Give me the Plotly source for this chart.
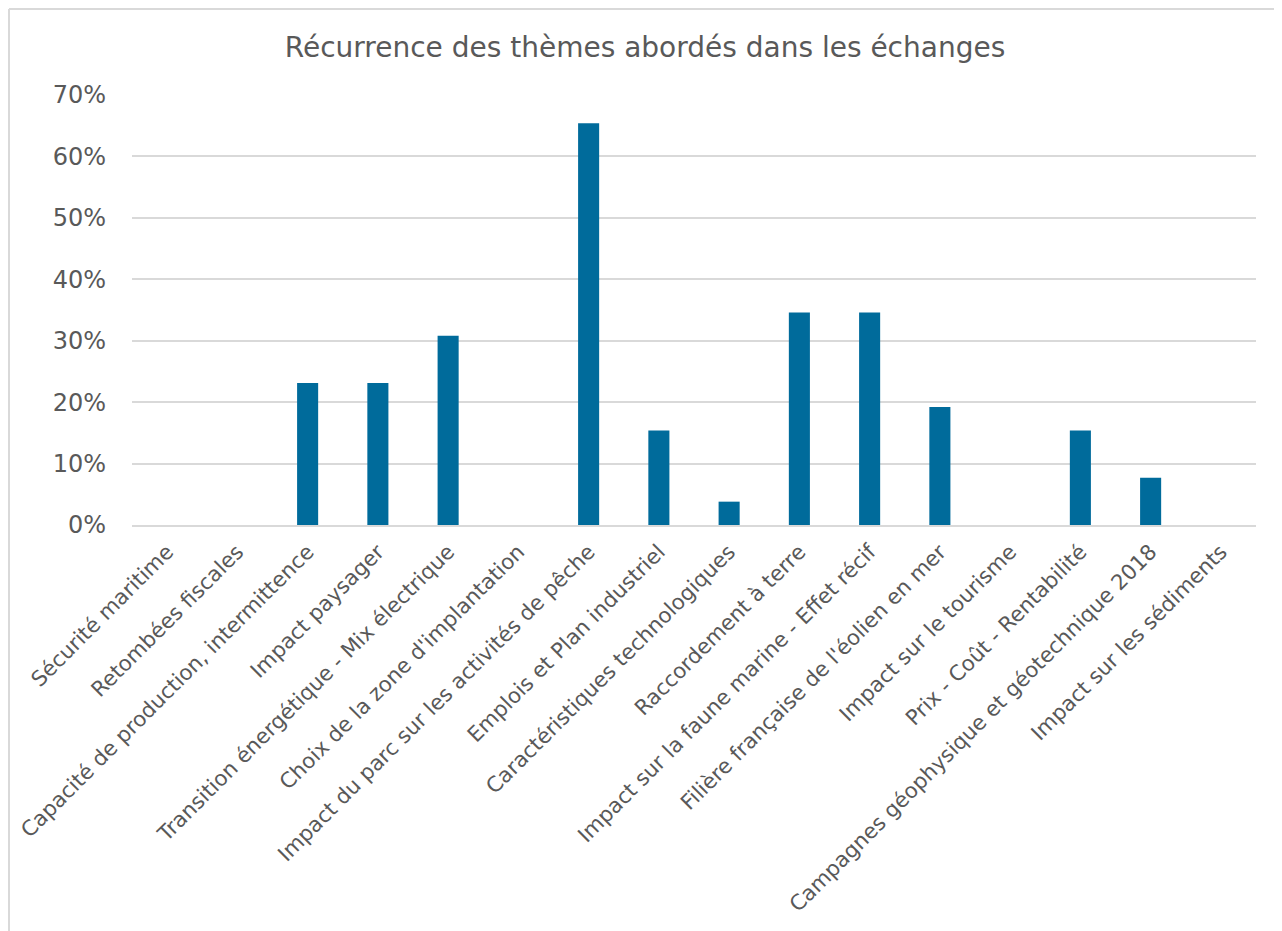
import plotly.graph_objects as go

categories = [
    "Sécurité maritime",
    "Retombées fiscales",
    "Capacité de production, intermittence",
    "Impact paysager",
    "Transition énergétique - Mix électrique",
    "Choix de la zone d'implantation",
    "Impact du parc sur les activités de pêche",
    "Emplois et Plan industriel",
    "Caractéristiques technologiques",
    "Raccordement à terre",
    "Impact sur la faune marine - Effet récif",
    "Filière française de l'éolien en mer",
    "Impact sur le tourisme",
    "Prix - Coût - Rentabilité",
    "Campagnes géophysique et géotechnique 2018",
    "Impact sur les sédiments",
]
values = [0, 0, 23.1, 23.1, 30.8, 0, 65.4, 15.4, 3.8, 34.6, 34.6, 19.2, 0, 15.4, 7.7, 0]
y_ticks = [0, 10, 20, 30, 40, 50, 60, 70]
y_tick_labels = ["0%", "10%", "20%", "30%", "40%", "50%", "60%", "70%"]
title_text = "Récurrence des thèmes abordés dans les échanges"

# page body has an 8px margin, so the figure is offset by 8px
W, H = 1274, 923
L, R, T, B = 124, 26, 87, 406
pw, ph = W - L - R, H - T - B

FONT = "DejaVu Sans"
GRAY = "#595959"
GRID = "#D9D9D9"

fig = go.Figure(go.Bar(x=categories, y=values, marker=dict(color="#006B9B", line=dict(width=0))))

fig.update_layout(
    width=W, height=H,
    margin=dict(l=L, r=R, t=T, b=B, autoexpand=False),
    paper_bgcolor="white", plot_bgcolor="white",
    bargap=0.7,
    showlegend=False,
    title=dict(text=title_text, x=637 / W, xanchor="center", y=1 - 39 / H, yanchor="middle",
               yref="container", xref="container",
               font=dict(family=FONT, size=28, color=GRAY)),
    font=dict(family=FONT, color=GRAY),
    xaxis=dict(tickangle=-45, tickfont=dict(family=FONT, size=21.2, color=GRAY),
               automargin=False, ticklabelstandoff=4,
               showgrid=False, showline=True, linecolor=GRID, linewidth=2, ticks=""),
    yaxis=dict(range=[0, 70], tickmode="array", tickvals=y_ticks, ticktext=y_tick_labels,
               automargin=False,
               tickfont=dict(family=FONT, size=24, color=GRAY),
               showgrid=True, gridcolor=GRID, gridwidth=2, zeroline=False,
               showline=False, ticks="", ticklabelstandoff=25),
    shapes=[
        dict(type="line", xref="paper", yref="paper",
             x0=(1 - L) / pw, x1=(1 - L) / pw, y0=(H - B - H - 20) / ph, y1=(H - B - 1) / ph,
             line=dict(color=GRID, width=2), layer="below"),
        dict(type="line", xref="paper", yref="paper",
             x0=(1 - L) / pw, x1=(W + 20 - L) / pw, y0=(H - B - 1) / ph, y1=(H - B - 1) / ph,
             line=dict(color=GRID, width=2), layer="below"),
    ],
)

fig.write_html("out.html")
